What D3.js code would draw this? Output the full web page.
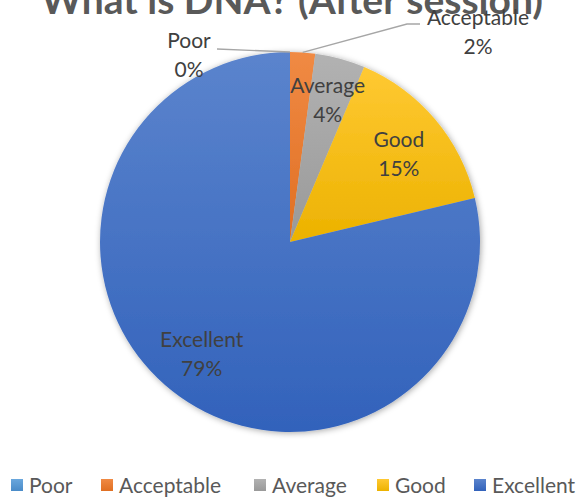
<!DOCTYPE html>
<html>
<head>
<meta charset="utf-8">
<script src="https://cdn.jsdelivr.net/npm/d3@7"></script>
<style>
  html, body { margin: 0; padding: 0; background: #ffffff; }
  svg { display: block; font-family: Lato, "Open Sans", sans-serif; }
</style>
</head>
<body>
<svg id="chart" width="582" height="499"></svg>
<script>
// Responses to "What is DNA?" after the session
const categories = ["Poor", "Acceptable", "Average", "Good", "Excellent"];
const counts = [0, 1, 2, 7, 37];
const colors = ["#5b9bd5", "#ed7d31", "#a5a5a5", "#ffc000", "#4472c4"];
const lightColors = ["#6aa7dd", "#f08a44", "#b2b2b2", "#ffc933", "#5b84cd"];
const darkColors = ["#4a8bc8", "#e06f22", "#999999", "#ecb200", "#3262bb"];
const titleText = "What is DNA? (After session)";

const width = 582, height = 499;
const cx = 290, cy = 242, r = 190;
const labelFont = 21;
const svg = d3.select("#chart");
const defs = svg.append("defs");

// soft shadow under the pie
const shadow = defs.append("filter").attr("id", "pieShadow")
  .attr("x", "-10%").attr("y", "-10%").attr("width", "120%").attr("height", "120%");
shadow.append("feDropShadow").attr("dx", 1).attr("dy", 1).attr("stdDeviation", 3)
  .attr("flood-color", "#000").attr("flood-opacity", 0.35);

categories.forEach((c, i) => {
  const g = defs.append("linearGradient").attr("id", "grad" + i)
    .attr("x1", 0).attr("y1", 0).attr("x2", 0).attr("y2", 1);
  g.append("stop").attr("offset", "0%").attr("stop-color", lightColors[i]);
  g.append("stop").attr("offset", "100%").attr("stop-color", darkColors[i]);
});

const total = d3.sum(counts);
const data = categories.map((c, i) => ({ name: c, value: counts[i], i }));
const pie = d3.pie().sort(null).value(d => d.value);
const arcs = pie(data);
const arc = d3.arc().innerRadius(0).outerRadius(r);
const pct = v => Math.round(v / total * 100) + "%";

// title (partly clipped by the top edge)
svg.append("text").attr("x", 292).attr("y", 14).attr("text-anchor", "middle")
  .attr("font-size", 39).attr("font-weight", 700).attr("fill", "#595959")
  .text(titleText);

const pieG = svg.append("g").attr("transform", `translate(${cx},${cy})`);
pieG.append("g").attr("filter", "url(#pieShadow)")
  .selectAll("path").data(arcs.filter(a => a.data.value > 0)).join("path")
  .attr("d", arc)
  .attr("fill", d => `url(#grad${d.data.i})`);

// labels inside the larger slices
const labelArc = d3.arc().innerRadius(r * 0.75).outerRadius(r * 0.75);
const nudge = { Average: -5, Good: 4, Excellent: 0 };
const inside = arcs.filter(a => a.data.value / total >= 0.03);
const lab = pieG.selectAll("g.lab").data(inside).join("g").attr("class", "lab")
  .attr("transform", d => {
    const [x, y] = labelArc.centroid(d);
    return `translate(${x},${y + (nudge[d.data.name] || 0)})`;
  });
lab.append("text").attr("text-anchor", "middle").attr("y", -7)
  .attr("font-size", labelFont).attr("fill", "#404040").text(d => d.data.name);
lab.append("text").attr("text-anchor", "middle").attr("y", 22)
  .attr("font-size", labelFont).attr("fill", "#404040").text(d => pct(d.data.value));

// callout labels for the thin slices
const outer = arcs.filter(a => a.data.value / total < 0.03);
const callouts = {
  Poor: { x: 189, y: 48, line: [[217, 49]] },
  Acceptable: { x: 478, y: 25, line: [[420, 24], [407, 24]] }
};
outer.forEach(a => {
  const c = callouts[a.data.name];
  const mid = (a.startAngle + a.endAngle) / 2;
  const px = cx + r * Math.sin(mid), py = cy - r * Math.cos(mid);
  const pts = [[px, py], ...c.line.slice().reverse()];
  svg.append("path").attr("d", d3.line()(pts))
    .attr("fill", "none").attr("stroke", "#a6a6a6").attr("stroke-width", 1.3);
  svg.append("text").attr("x", c.x).attr("y", c.y).attr("text-anchor", "middle")
    .attr("font-size", labelFont).attr("fill", "#404040").text(a.data.name);
  svg.append("text").attr("x", c.x).attr("y", c.y + 29).attr("text-anchor", "middle")
    .attr("font-size", labelFont).attr("fill", "#404040").text(pct(a.data.value));
});

// legend
const legendX = [11, 101, 254, 377, 474];
const lg = svg.selectAll("g.leg").data(data).join("g").attr("class", "leg")
  .attr("transform", (d, i) => `translate(${legendX[i]},485)`);
lg.append("rect").attr("x", 0).attr("y", -6).attr("width", 12).attr("height", 12)
  .attr("fill", d => `url(#grad${d.i})`);
lg.append("text").attr("x", 18).attr("y", 7.5).attr("font-size", labelFont)
  .attr("fill", "#595959").text(d => d.name);
</script>
</body>
</html>
